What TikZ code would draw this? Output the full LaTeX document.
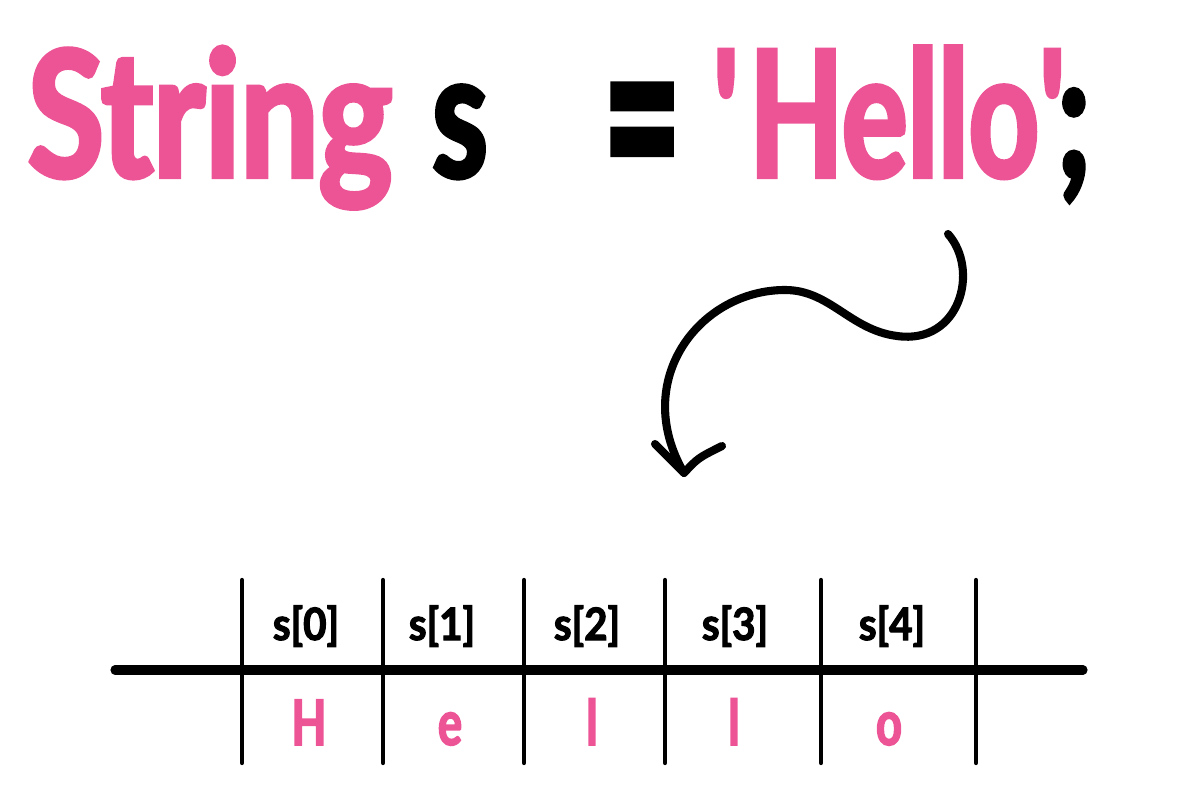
\documentclass[tikz,border=0pt]{standalone}
\usepackage{fontspec}
\setmainfont{Lato}
\newfontfamily\codefont[FakeStretch=0.72, BoldFeatures={FakeBold=2.5}]{Lato}
\newfontfamily\indexfont[FakeStretch=0.9, BoldFeatures={FakeBold=2.5}]{Lato}
\usetikzlibrary{calc}
\definecolor{hellopink}{RGB}{236,84,150}

\begin{document}
\begin{tikzpicture}[x=0.01cm, y=-0.01cm,
    title/.style={font=\codefont\bfseries\fontsize{50}{60}\selectfont, anchor=base, inner sep=0pt},
    index/.style={font=\indexfont\bfseries\fontsize{12.7}{15}\selectfont, anchor=base, inner sep=0pt},
    letter/.style={font=\codefont\bfseries\fontsize{17.8}{22}\selectfont, text=hellopink, anchor=base, inner sep=0pt},
    grid/.style={line width=1.2pt, line cap=round},
    arrowline/.style={line width=2.3pt, line cap=round, line join=round}]

\useasboundingbox (0,0) rectangle (1192,795);

% Declaration
\node[title, text=hellopink] (typename) at (210,177) {\scalebox{1.1}[1]{String}};
\node[title] (varname) at (460,177) {s};
\node[title] (assign) at (642,206) {\scalebox{1.05}[1.47]{=}};
\node[title, text=hellopink] (literal) at (894,177) {\scalebox{0.97}[1]{\textquotesingle Hello\textquotesingle}};
\node[title] (semicolon) at (1074,177) {;};

% Curly arrow down to the table
\coordinate (arrowstart) at (948,234);
\coordinate (arrowtip) at (684,473);
\coordinate (headleft) at (655,444);
\coordinate (headright) at (722,446);
\draw[arrowline] (arrowstart)
    .. controls (980,270) and (960,345) .. (897,336)
    .. controls (850,330) and (830,290) .. (785,290)
    .. controls (700,290) and (630,380) .. (arrowtip);
\draw[arrowline] (headleft) -- (arrowtip) .. controls (698,458) .. (headright);

% Table lines
\draw[line width=2.6pt, line cap=round] (115,670) -- (1083,670);
\foreach \x in {242,383,524,665,821,976} {
    \draw[grid] (\x,580) -- (\x,763);
}

% Indices and characters
\foreach \i/\x in {0/306,1/442,2/587,3/735,4/892} {
    \node[index] (idx\i) at (\x,640) {s[\i]};
}
\foreach \i/\x/\c in {0/309/H,1/450/e,2/592/l,3/734/l,4/889/o} {
    \node[letter] (chr\i) at (\x,745) {\c};
}

\end{tikzpicture}
\end{document}
